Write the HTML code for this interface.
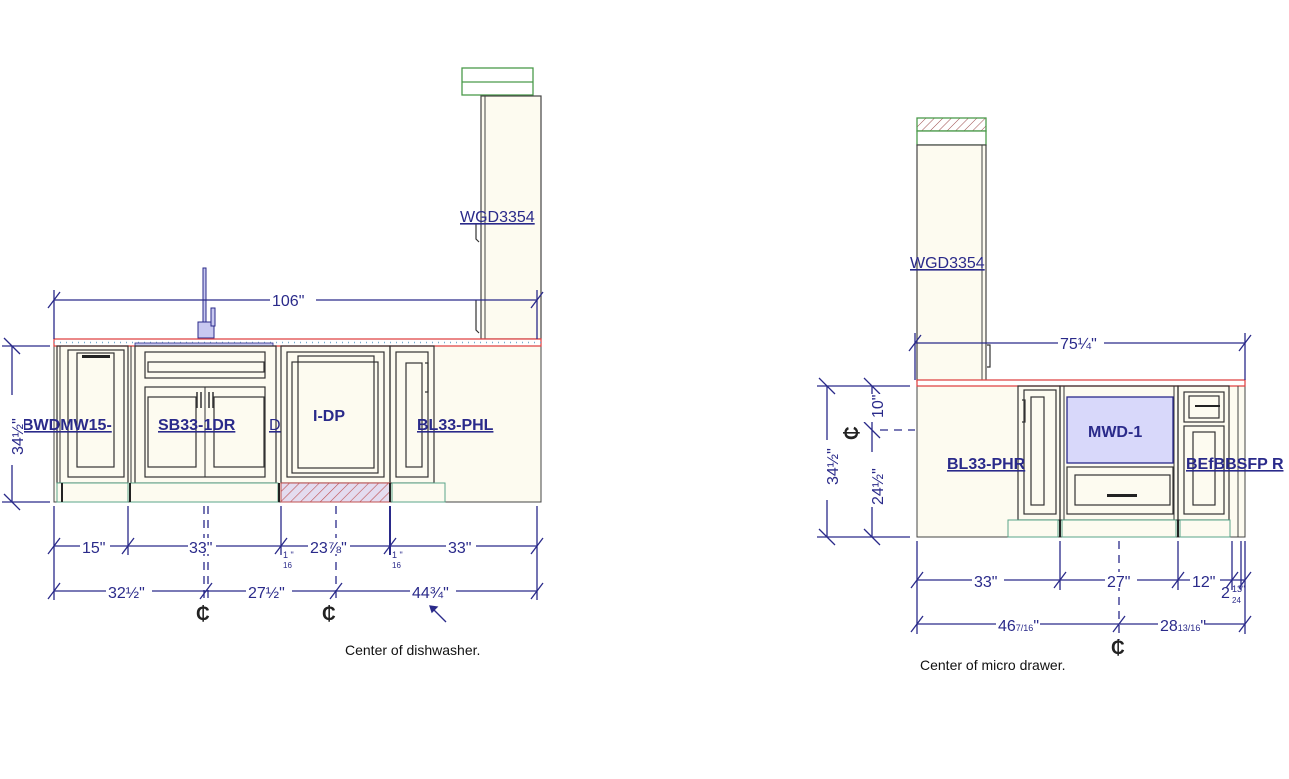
<!DOCTYPE html>
<html><head><meta charset="utf-8"><style>
html,body{margin:0;padding:0;background:#fff}
svg{display:block}
text{font-family:"Liberation Sans",sans-serif}
.d{stroke:#2a2a8a;stroke-width:1.3;fill:none}
.dt{fill:#2a2a8a;font-size:16px}
.lb{fill:#2a2a8a;font-size:16px;text-decoration:underline}
.c{fill:#fdfbf0;stroke:#444;stroke-width:1.2}
.f{fill:none;stroke:#333;stroke-width:1.2}
.cl{fill:#222;font-size:19px;font-weight:bold}
</style></head><body>
<svg width="1289" height="779" viewBox="0 0 1289 779" xmlns="http://www.w3.org/2000/svg">
<defs>
<pattern id="h" width="7" height="7" patternUnits="userSpaceOnUse" patternTransform="rotate(45)">
<rect width="7" height="7" fill="#e4dcf0"/><line x1="0" y1="0" x2="0" y2="7" stroke="#c05050" stroke-width="1.2"/></pattern>
<pattern id="h2" width="6" height="6" patternUnits="userSpaceOnUse" patternTransform="rotate(45)">
<rect width="6" height="6" fill="#fff"/><line x1="0" y1="0" x2="0" y2="6" stroke="#a05050" stroke-width="1"/></pattern>
</defs>

<!-- LEFT ELEVATION -->
<rect x="462" y="68" width="71" height="27" fill="#fff" stroke="#4a9a4a" stroke-width="1.3"/>
<line x1="462" y1="82" x2="533" y2="82" stroke="#4a9a4a" stroke-width="1.3"/>
<rect x="481" y="96" width="60" height="243" class="c"/>
<line x1="485" y1="96" x2="485" y2="339" stroke="#444"/>
<path d="M476 224 v15 l3 3" class="f" stroke-width="2"/>
<path d="M476 300 v30 l3 3" class="f" stroke-width="2"/>
<text x="460" y="222" class="lb">WGD3354</text>

<path d="M203 340 v-72 h3 v72 z" fill="#c8c8f0" stroke="#2a2a8a"/>
<rect x="198" y="322" width="16" height="16" fill="#c8c8f0" stroke="#2a2a8a"/>
<rect x="211" y="308" width="4" height="18" fill="#c8c8f0" stroke="#2a2a8a"/>

<rect x="54" y="346" width="487" height="156" fill="#fdfbf0" stroke="#444"/>
<rect x="54" y="339" width="487" height="7" fill="#fff" stroke="#e04848" stroke-width="1.3"/>
<line x1="54" y1="342.5" x2="541" y2="342.5" stroke="#7ac" stroke-width="1.5" stroke-dasharray="1 5"/>
<rect x="135" y="343" width="138" height="3" fill="#c8c8f0" stroke="#2a2a8a" stroke-width="0.8"/>
<rect x="57" y="346" width="71" height="137" class="f"/>
<rect x="68" y="350" width="56" height="127" class="f"/>
<rect x="77" y="353" width="37" height="114" class="f"/>
<rect x="82" y="355" width="28" height="3" fill="#222"/>
<line x1="60" y1="346" x2="60" y2="502" stroke="#333"/>
<rect x="135" y="346" width="141" height="137" class="f"/>
<line x1="131" y1="346" x2="131" y2="502" stroke="#333"/>
<rect x="145" y="352" width="120" height="26" class="f"/>
<rect x="148" y="362" width="116" height="10" class="f"/>
<rect x="145" y="387" width="120" height="90" class="f"/>
<rect x="148" y="397" width="48" height="70" class="f"/>
<rect x="214" y="397" width="50" height="70" class="f"/>
<line x1="205" y1="387" x2="205" y2="477" stroke="#333"/>
<path d="M197 392 v16 M201 392 v16 M209 392 v16 M213 392 v16" stroke="#333" stroke-width="1.5"/>
<rect x="281" y="346" width="109" height="137" class="f"/>
<rect x="287" y="352" width="97" height="125" class="f"/>
<rect x="298" y="356" width="76" height="112" class="f"/>
<rect x="292" y="362" width="86" height="111" class="f" stroke-width="0.8"/>
<rect x="390" y="346" width="44" height="137" class="f"/>
<rect x="396" y="352" width="32" height="125" class="f"/>
<rect x="406" y="363" width="16" height="104" class="f"/>
<path d="M425 363 h3 v29 h-3" class="f" stroke-width="2"/>
<rect x="57" y="483" width="71" height="19" fill="#fdfbf0" stroke="#5aa58a"/>
<rect x="130" y="483" width="148" height="19" fill="#fdfbf0" stroke="#5aa58a"/>
<rect x="281" y="483" width="109" height="19" fill="url(#h)" stroke="#c05050"/>
<rect x="392" y="483" width="53" height="19" fill="#fdfbf0" stroke="#5aa58a"/>
<line x1="62" y1="483" x2="62" y2="502" stroke="#222" stroke-width="2"/>
<line x1="130" y1="483" x2="130" y2="502" stroke="#222" stroke-width="2"/>
<line x1="279" y1="483" x2="279" y2="502" stroke="#222" stroke-width="2"/>
<line x1="390" y1="483" x2="390" y2="502" stroke="#222" stroke-width="2"/>

<text x="22" y="430" class="lb" font-weight="bold">BWDMW15-</text>
<text x="158" y="430" class="lb" font-weight="bold">SB33-1DR</text>
<text x="269" y="430" class="lb">D</text>
<text x="313" y="421" class="dt" font-weight="bold">I-DP</text>
<text x="417" y="430" class="lb" font-weight="bold">BL33-PHL</text>

<g class="d">
<line x1="54" y1="300" x2="537" y2="300"/>
<line x1="54" y1="290" x2="54" y2="339"/><line x1="537" y1="290" x2="537" y2="339"/>
<line x1="48" y1="308" x2="60" y2="292"/><line x1="531" y1="308" x2="543" y2="292"/>
<line x1="12" y1="346" x2="12" y2="502"/>
<line x1="2" y1="346" x2="50" y2="346"/><line x1="2" y1="502" x2="50" y2="502"/>
<line x1="4" y1="338" x2="20" y2="354"/><line x1="4" y1="494" x2="20" y2="510"/>
<line x1="54" y1="546" x2="537" y2="546"/>
<line x1="54" y1="591" x2="537" y2="591"/>
<line x1="54" y1="506" x2="54" y2="600"/><line x1="537" y1="506" x2="537" y2="600"/>
<line x1="128" y1="506" x2="128" y2="555"/>
<line x1="281" y1="506" x2="281" y2="555"/>
<line x1="390" y1="506" x2="390" y2="555" stroke-width="2"/>
<line x1="204" y1="506" x2="204" y2="600" stroke-dasharray="8 6"/><line x1="208" y1="506" x2="208" y2="600" stroke-dasharray="8 6"/>
<line x1="336" y1="506" x2="336" y2="600" stroke-dasharray="8 6"/>
<path d="M48 554 l12 -16 M122 554 l12 -16 M275 554 l12 -16 M384 554 l12 -16 M531 554 l12 -16"/>
<path d="M48 599 l12 -16 M200 599 l12 -16 M330 599 l12 -16 M531 599 l12 -16"/>
<line x1="446" y1="622" x2="432" y2="608"/>
<path d="M430 606 l7 1 l-5 5 z" fill="#2a2a8a"/>
</g>
<g class="dt">
<rect x="2" y="395" width="22" height="70" fill="#fff"/>
<text transform="translate(23 455) rotate(-90)" font-size="16">34½"</text>
<rect x="270" y="292" width="46" height="16" fill="#fff"/><text x="272" y="306">106"</text>
<rect x="80" y="538" width="30" height="16" fill="#fff"/><text x="82" y="553">15"</text>
<rect x="188" y="538" width="28" height="16" fill="#fff"/><text x="189" y="553">33"</text>
<rect x="308" y="538" width="42" height="16" fill="#fff"/><text x="310" y="553">23⅞"</text>
<rect x="446" y="538" width="30" height="16" fill="#fff"/><text x="448" y="553">33"</text>
<text x="283" y="558" font-size="9">1 "</text><text x="283" y="568" font-size="8">16</text>
<text x="392" y="558" font-size="9">1 "</text><text x="392" y="568" font-size="8">16</text>
<rect x="106" y="583" width="46" height="16" fill="#fff"/><text x="108" y="598">32½"</text>
<rect x="246" y="583" width="46" height="16" fill="#fff"/><text x="248" y="598">27½"</text>
<rect x="410" y="583" width="46" height="16" fill="#fff"/><text x="412" y="598">44¾"</text>
<text x="196" y="620" class="cl">₵</text>
<text x="322" y="620" class="cl">₵</text>
</g>
<text x="345" y="655" font-size="14" fill="#111">Center of dishwasher.</text>

<!-- RIGHT ELEVATION -->
<rect x="917" y="118" width="69" height="13" fill="url(#h2)" stroke="#4a9a4a" stroke-width="1.3"/>
<rect x="917" y="131" width="69" height="14" fill="#fff" stroke="#4a9a4a" stroke-width="1.3"/>
<rect x="917" y="145" width="69" height="236" class="c"/>
<line x1="982" y1="145" x2="982" y2="380" stroke="#444"/>
<path d="M987 345 h3 v22 h-3" class="f" stroke-width="2"/>
<text x="910" y="268" class="lb">WGD3354</text>

<rect x="917" y="386" width="328" height="151" fill="#fdfbf0" stroke="#444"/>
<rect x="917" y="380" width="328" height="6" fill="#fff" stroke="#e04848" stroke-width="1.3"/>
<rect x="1018" y="386" width="42" height="134" class="f"/>
<rect x="1024" y="390" width="32" height="124" class="f"/>
<rect x="1031" y="397" width="13" height="108" class="f"/>
<path d="M1022 400 h3 v22 h-3" class="f" stroke-width="2"/>
<rect x="1060" y="386" width="118" height="134" class="f"/>
<line x1="1064" y1="386" x2="1064" y2="520" stroke="#333"/>
<line x1="1174" y1="386" x2="1174" y2="520" stroke="#333"/>
<rect x="1067" y="397" width="106" height="66" fill="#d8d8fa" stroke="#2a2a8a" stroke-width="1.3"/>
<rect x="1067" y="467" width="106" height="47" class="f"/>
<rect x="1075" y="475" width="95" height="30" class="f"/>
<rect x="1107" y="494" width="30" height="3" fill="#222"/>
<text x="1088" y="437" class="dt" font-weight="bold">MWD-1</text>
<rect x="1178" y="386" width="51" height="134" class="f"/>
<rect x="1184" y="392" width="40" height="30" class="f"/>
<rect x="1189" y="396" width="30" height="22" class="f"/>
<rect x="1195" y="405" width="25" height="2" fill="#222"/>
<rect x="1184" y="426" width="40" height="88" class="f"/>
<rect x="1193" y="432" width="22" height="73" class="f"/>
<line x1="1238" y1="386" x2="1238" y2="537" stroke="#444"/>
<rect x="1008" y="520" width="50" height="17" fill="#fdfbf0" stroke="#5aa58a"/>
<rect x="1062" y="520" width="114" height="17" fill="#fdfbf0" stroke="#5aa58a"/>
<rect x="1180" y="520" width="50" height="17" fill="#fdfbf0" stroke="#5aa58a"/>
<line x1="1060" y1="520" x2="1060" y2="537" stroke="#222" stroke-width="2"/>
<line x1="1178" y1="520" x2="1178" y2="537" stroke="#222" stroke-width="2"/>
<text x="947" y="469" class="lb" font-weight="bold">BL33-PHR</text>
<text x="1186" y="469" class="lb" font-weight="bold">BEfBBSFP R</text>

<g class="d">
<line x1="915" y1="343" x2="1245" y2="343"/>
<line x1="915" y1="333" x2="915" y2="380"/><line x1="1245" y1="333" x2="1245" y2="380"/>
<path d="M909 351 l12 -16 M1239 351 l12 -16"/>
<line x1="827" y1="386" x2="827" y2="537"/><line x1="872" y1="386" x2="872" y2="537"/>
<line x1="817" y1="386" x2="910" y2="386"/><line x1="817" y1="537" x2="910" y2="537"/>
<path d="M819 378 l16 16 M819 529 l16 16 M864 378 l16 16 M864 529 l16 16 M864 422 l16 16"/>
<line x1="880" y1="430" x2="915" y2="430" stroke-dasharray="8 6"/>
<line x1="917" y1="541" x2="917" y2="634"/><line x1="1245" y1="541" x2="1245" y2="634"/>
<line x1="1060" y1="541" x2="1060" y2="590"/><line x1="1178" y1="541" x2="1178" y2="590"/>
<line x1="1232" y1="541" x2="1232" y2="590"/><line x1="1241" y1="541" x2="1241" y2="590"/>
<line x1="1119" y1="541" x2="1119" y2="640" stroke-dasharray="8 6"/>
<line x1="917" y1="580" x2="1245" y2="580"/>
<line x1="917" y1="624" x2="1245" y2="624"/>
<path d="M911 588 l12 -16 M1054 588 l12 -16 M1172 588 l12 -16 M1226 588 l12 -16 M1239 588 l12 -16"/>
<path d="M911 632 l12 -16 M1113 632 l12 -16 M1239 632 l12 -16"/>
</g>
<g class="dt">
<rect x="819" y="440" width="18" height="60" fill="#fff"/>
<text transform="translate(838 485) rotate(-90)">34½"</text>
<rect x="864" y="394" width="18" height="28" fill="#fff"/>
<text transform="translate(883 418) rotate(-90)">10"</text>
<rect x="864" y="452" width="18" height="55" fill="#fff"/>
<text transform="translate(883 505) rotate(-90)">24½"</text>
<text transform="translate(858 440) rotate(-90)" class="cl">₵</text>
<rect x="1058" y="335" width="46" height="16" fill="#fff"/><text x="1060" y="349">75¼"</text>
<rect x="972" y="572" width="32" height="16" fill="#fff"/><text x="974" y="587">33"</text>
<rect x="1105" y="572" width="32" height="16" fill="#fff"/><text x="1107" y="587">27"</text>
<rect x="1190" y="572" width="30" height="16" fill="#fff"/><text x="1192" y="587">12"</text>
<text x="1221" y="598">2</text><text x="1232" y="592" font-size="9">13"</text><text x="1232" y="603" font-size="8">24</text>
<rect x="996" y="616" width="44" height="16" fill="#fff"/><text x="998" y="631">46<tspan font-size="9">7/16</tspan>"</text>
<rect x="1158" y="616" width="46" height="16" fill="#fff"/><text x="1160" y="631">28<tspan font-size="9">13/16</tspan>"</text>
<text x="1111" y="654" class="cl">₵</text>
</g>
<text x="920" y="670" font-size="14" fill="#111">Center of micro drawer.</text>
</svg>
</body></html>
